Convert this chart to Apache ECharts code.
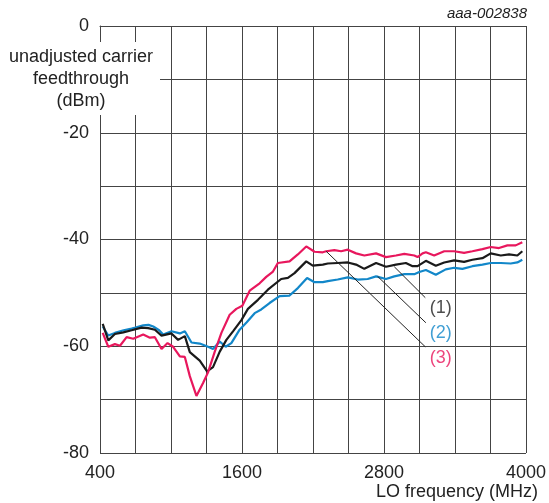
<!DOCTYPE html>
<html>
<head>
<meta charset="utf-8">
<script src="https://cdn.jsdelivr.net/npm/echarts@6/dist/echarts.min.js"></script>
<style>
  html, body { margin: 0; padding: 0; background: #fff; }
  #chart { width: 549px; height: 503px; }
</style>
</head>
<body>
<div id="chart"></div>
<script>
// curve (1) black
const freq1 = [423, 470, 526, 597, 667, 751, 807, 864, 920, 1004, 1060, 1117, 1159, 1243, 1305, 1355, 1412, 1468, 1524, 1595, 1650, 1735, 1819, 1931, 1988, 2044, 2143, 2198, 2283, 2325, 2409, 2494, 2564, 2634, 2733, 2817, 2901, 2985, 3042, 3084, 3154, 3238, 3309, 3393, 3477, 3547, 3632, 3702, 3787, 3857, 3927, 3969];
const val1 = [-55.8, -58.9, -57.7, -57.4, -57.0, -56.5, -56.6, -56.9, -58.0, -57.6, -58.8, -58.1, -61.1, -62.7, -64.7, -63.9, -61.0, -58.8, -57.2, -55.1, -53.0, -51.3, -49.4, -47.4, -47.2, -46.3, -44.1, -44.9, -44.7, -44.5, -44.4, -44.3, -44.7, -45.5, -44.4, -45.1, -44.7, -44.4, -45.0, -45.0, -44.0, -44.9, -44.3, -43.9, -44.2, -43.8, -43.5, -42.6, -43.0, -42.8, -43.0, -42.2];

// curve (2) blue
const freq2 = [423, 470, 526, 600, 667, 700, 765, 810, 850, 900, 934, 1004, 1075, 1117, 1173, 1243, 1313, 1355, 1412, 1462, 1510, 1580, 1640, 1707, 1763, 1833, 1918, 2002, 2072, 2150, 2213, 2283, 2325, 2409, 2494, 2578, 2662, 2733, 2817, 2887, 2972, 3056, 3098, 3154, 3238, 3322, 3393, 3463, 3547, 3632, 3702, 3787, 3871, 3927, 3969];
const val2 = [-56.3, -58.0, -57.5, -57.0, -56.7, -56.5, -56.1, -56.0, -56.3, -57.0, -57.8, -57.2, -57.6, -57.2, -59.3, -59.5, -60.1, -60.5, -59.1, -60.1, -59.4, -56.9, -55.5, -53.8, -53.1, -51.9, -50.6, -50.5, -49.1, -47.2, -48.0, -48.0, -47.8, -47.5, -47.1, -47.5, -47.4, -46.9, -47.4, -46.9, -46.5, -46.5, -46.1, -45.7, -46.6, -45.6, -45.3, -45.5, -45.0, -44.7, -44.4, -44.4, -44.5, -44.3, -43.8];

// curve (3) red
const freq3 = [423, 470, 526, 569, 625, 681, 765, 822, 864, 920, 971, 1018, 1075, 1117, 1159, 1215, 1271, 1313, 1370, 1426, 1496, 1552, 1603, 1665, 1749, 1805, 1862, 1903, 2002, 2072, 2143, 2213, 2283, 2311, 2381, 2438, 2494, 2564, 2634, 2733, 2817, 2901, 2972, 3056, 3084, 3126, 3154, 3224, 3309, 3393, 3477, 3547, 3632, 3702, 3772, 3843, 3913, 3969];
const val3 = [-57.5, -60.1, -59.6, -59.9, -58.3, -58.6, -57.8, -58.4, -58.3, -60.5, -59.4, -60.1, -61.9, -62.0, -65.6, -69.3, -66.9, -64.9, -61.0, -57.5, -54.1, -53.0, -52.4, -49.6, -48.2, -47.0, -46.0, -44.4, -44.1, -42.8, -41.3, -42.3, -42.4, -42.2, -42.0, -42.2, -41.9, -42.6, -43.0, -42.6, -43.3, -43.0, -42.7, -43.0, -43.3, -42.6, -42.4, -43.0, -42.2, -42.2, -42.5, -42.2, -41.8, -41.4, -41.6, -41.1, -41.1, -40.5];

// leader lines: [curve point, label end], and label anchor points
const curveNames = ['(1)', '(2)', '(3)'];
const curveColors = ['#1a1a1a', '#1287c9', '#e8175d'];
const labelColors = ['#222', '#1287c9', '#e8175d'];
const leaderFrom = [[2887, -45.1], [2746, -46.9], [2311, -42.2]];
const leaderTo = [[3149, -50.9], [3154, -55.6], [3149, -60.1]];
const labelAt = [[3280, -52.9], [3280, -57.5], [3280, -62.2]];

const xTickLabels = [400, 1600, 2800, 4000];
const yTickLabels = [0, -20, -40, -60, -80];

const zip = (xs, ys) => xs.map((x, i) => [x, ys[i]]);

var chartDom = document.getElementById('chart');
var myChart = echarts.init(chartDom);
var option;

const gridColor = '#444';
const textColor = '#222';
const font = 'Liberation Sans, Arial, sans-serif';
const fontSize = 18;

const curveSeries = [
    { data: zip(freq2, val2), color: curveColors[1] },
    { data: zip(freq1, val1), color: curveColors[0] },
    { data: zip(freq3, val3), color: curveColors[2] }
].map(s => ({
    type: 'line',
    data: s.data,
    symbol: 'none',
    silent: true,
    lineStyle: { color: s.color, width: 2.2 },
    z: 3
}));

const leaderSeries = leaderFrom.map((p, i) => ({
    type: 'line',
    data: [p, leaderTo[i]],
    symbol: 'none',
    silent: true,
    lineStyle: { color: '#222', width: 1 },
    z: 4
}));

const labelSeries = {
    type: 'scatter',
    symbolSize: 0,
    silent: true,
    data: labelAt.map((p, i) => ({
        value: p,
        label: {
            show: true,
            position: 'inside',
            formatter: curveNames[i],
            color: labelColors[i],
            fontSize: fontSize,
            fontFamily: font
        }
    })),
    z: 5
};

option = {
    animation: false,
    backgroundColor: '#fff',
    grid: { left: 100, right: 22, top: 26, bottom: 50 },
    xAxis: {
        type: 'value',
        min: 400,
        max: 4000,
        interval: 300,
        axisLine: { show: true, lineStyle: { color: gridColor, width: 1 } },
        axisTick: { show: false },
        splitLine: { show: true, lineStyle: { color: gridColor, width: 1 } },
        axisLabel: {
            margin: 11,
            color: textColor,
            fontSize: fontSize,
            fontFamily: font,
            formatter: v => xTickLabels.includes(v) ? String(v) : ''
        }
    },
    yAxis: {
        type: 'value',
        min: -80,
        max: 0,
        interval: 10,
        axisLine: { show: true, lineStyle: { color: gridColor, width: 1 } },
        axisTick: { show: false },
        splitLine: { show: true, lineStyle: { color: gridColor, width: 1 } },
        axisLabel: {
            margin: 11,
            color: textColor,
            fontSize: fontSize,
            fontFamily: font,
            formatter: v => yTickLabels.includes(v) ? String(v) : ''
        }
    },
    graphic: [
        // white box behind y-axis title
        { type: 'rect', shape: { x: 0, y: 42, width: 160, height: 73 }, style: { fill: '#fff' }, z: 100 },
        {
            type: 'text', x: 81, y: 79, z: 101,
            style: {
                text: 'unadjusted carrier\nfeedthrough\n(dBm)',
                align: 'center', verticalAlign: 'middle',
                lineHeight: 22,
                fontSize: fontSize, fontFamily: font, fill: textColor
            }
        },
        {
            type: 'text', x: 527, y: 14, z: 101,
            style: {
                text: 'aaa-002838', align: 'right', verticalAlign: 'middle',
                fontSize: 15, fontStyle: 'italic', fontFamily: font, fill: textColor
            }
        },
        {
            type: 'text', x: 538, y: 492, z: 101,
            style: {
                text: 'LO frequency (MHz)', align: 'right', verticalAlign: 'middle',
                fontSize: fontSize, fontFamily: font, fill: textColor
            }
        }
    ],
    series: curveSeries.concat(leaderSeries, [labelSeries])
};

option && myChart.setOption(option);
</script>
</body>
</html>
